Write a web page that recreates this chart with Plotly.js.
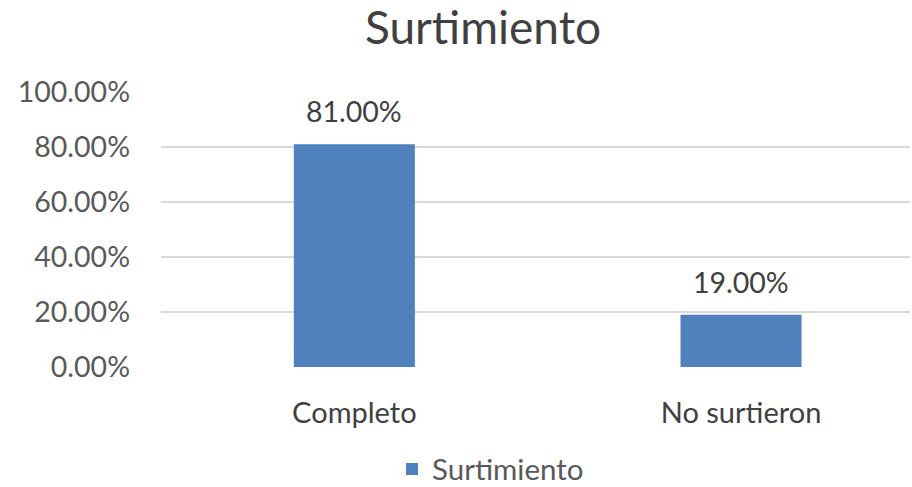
<!DOCTYPE html>
<html><head><meta charset="utf-8">
<script src="https://cdn.plot.ly/plotly-3.0.1.min.js"></script>
<style>body{margin:0;padding:0;background:#fff}#chart{width:912px;height:487px}</style>
</head><body><div id="chart"></div>
<script>
const categories = ["Completo", "No surtieron"];
const values = [81.0, 19.0];
const labels = ["81.00%", "19.00%"];
const yTickVals = [0, 20, 40, 60, 80, 100];
const yTickText = ["0.00%", "20.00%", "40.00%", "60.00%", "80.00%", "100.00%"];
const seriesName = "Surtimiento";
const chartTitle = "Surtimiento";

const FONT = "Lato, 'Open Sans', sans-serif";
const trace = {
  type: "bar", x: categories, y: values, name: seriesName,
  marker: {color: "#4F81BD"}, width: 0.313, showlegend: true,
  hoverinfo: "none"
};
const annotations = categories.map((c, i) => ({
  x: c, y: values[i], text: labels[i], showarrow: false,
  xref: "x", yref: "y", yanchor: "bottom", yshift: 14,
  font: {family: FONT, size: 28.5, color: "#404040"}
}));
const layout = {
  width: 912, height: 487,
  margin: {l: 161, r: 2, t: 92, b: 119.5, pad: 0, autoexpand: false},
  paper_bgcolor: "#fff", plot_bgcolor: "#fff",
  title: {text: chartTitle, x: 483/912, xanchor: "center", xref: "container",
          y: 1 - 28/487, yanchor: "middle", yref: "container",
          font: {family: FONT, size: 46, color: "#404040"}},
  xaxis: {range: [-0.5, 1.437], showgrid: false, zeroline: false, showline: false,
          ticks: "", tickfont: {family: FONT, size: 29, color: "#404040"},
          ticklabelstandoff: 26, automargin: false},
  yaxis: {range: [0, 100], tickvals: yTickVals, ticktext: yTickText,
          showgrid: true, gridcolor: "#d9d9d9", gridwidth: 1.3, zeroline: false,
          showline: false, ticks: "", ticklabelstandoff: 30, automargin: false,
          tickfont: {family: FONT, size: 28.5, color: "#595959"}},
  legend: {orientation: "h", x: 392/912, xanchor: "left", xref: "container",
           y: -0.372, yanchor: "middle",
           font: {family: FONT, size: 29.5, color: "#595959"}, itemwidth: 30},
  annotations: annotations,
  showlegend: true
};
Plotly.newPlot("chart", [trace], layout, {displayModeBar: false, staticPlot: true});
</script></body></html>
